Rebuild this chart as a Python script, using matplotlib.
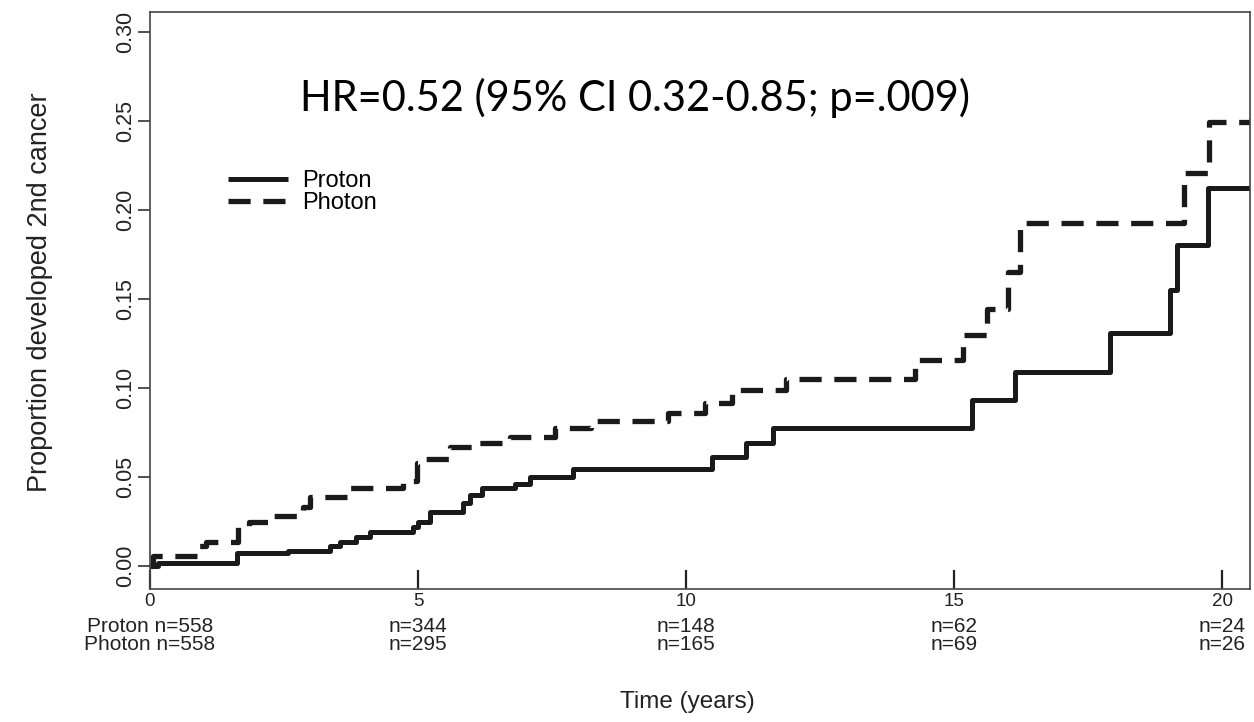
import numpy as np
import matplotlib
matplotlib.use("Agg")
import matplotlib.pyplot as plt

plt.rcParams['font.family'] = ['Liberation Sans', 'DejaVu Sans']

# cumulative incidence steps (years, proportion)
proton_t = [0, 0.15, 1.62, 2.58, 3.36, 3.54, 3.85, 4.10, 4.90, 5.00, 5.22, 5.84, 5.97,
            6.19, 6.81, 7.09, 7.89, 10.49, 11.11, 11.63, 15.33, 16.14, 17.91, 19.03,
            19.15, 19.74]
proton_p = [0, 0.0015, 0.0073, 0.0084, 0.0114, 0.0133, 0.0165, 0.0193, 0.0220, 0.0250,
            0.0305, 0.0354, 0.0400, 0.0437, 0.0460, 0.0500, 0.0543, 0.0614, 0.0689,
            0.0774, 0.0933, 0.1090, 0.1307, 0.1550, 0.1803, 0.2122]

photon_t = [0, 0.06, 0.87, 1.05, 1.64, 1.85, 2.24, 2.85, 2.99, 3.73, 4.72, 4.98, 5.10,
            5.60, 6.12, 6.72, 7.56, 8.23, 8.34, 9.66, 10.35, 10.85, 11.87, 14.27, 15.17,
            15.61, 16.01, 16.23, 19.28, 19.76]
photon_p = [0, 0.0058, 0.0110, 0.0137, 0.0220, 0.0250, 0.0280, 0.0333, 0.0386, 0.0440,
            0.0480, 0.0579, 0.0600, 0.0670, 0.0690, 0.0727, 0.0774, 0.0780, 0.0815,
            0.0858, 0.0917, 0.0989, 0.1050, 0.1160, 0.1298, 0.1442, 0.1650, 0.1925,
            0.2206, 0.2493]

t_end = 20.52

risk_times = [0, 5, 10, 15, 20]
proton_n = [558, 344, 148, 62, 24]
photon_n = [558, 295, 165, 69, 26]

hr_text = "HR=0.52 (95% CI 0.32-0.85; p=.009)"

fig = plt.figure(figsize=(12.54, 7.22), dpi=100)
ax = fig.add_axes([0.1196, 0.1842, 0.8772, 0.7992])

ax.step(proton_t + [t_end], proton_p + [proton_p[-1]], where="post",
        color="#1a1a1a", lw=3.6, solid_capstyle="butt", label="Proton")
ax.step(photon_t + [t_end], photon_p + [photon_p[-1]], where="post",
        color="#1a1a1a", lw=3.8, linestyle=(0, (4.2, 2.4)), label="Photon")

ax.set_xlim(0, t_end)
ax.set_ylim(-0.0129, 0.3112)

for s in ax.spines.values():
    s.set_color("#444444")
    s.set_linewidth(1.2)

ax.set_yticks(np.arange(0, 0.31, 0.05))
ax.set_yticklabels(["%.2f" % v for v in np.arange(0, 0.31, 0.05)],
                   rotation=90, va="center", fontsize=15.5, color="#222222")
ax.tick_params(axis="y", direction="out", length=9, width=1.2, color="#333333", pad=1)

ax.set_xticks(risk_times)
ax.set_xticklabels([str(t) for t in risk_times], fontsize=13.5, color="#222222")
ax.tick_params(axis="x", direction="in", length=14, width=1.6, color="#222222", pad=3)

# numbers at risk under the axis, one two-line block per time point
xt = ax.get_xaxis_transform()
for i, t in enumerate(risk_times):
    if i == 0:
        lab = "Proton n=%d\nPhoton n=%d" % (proton_n[i], photon_n[i])
    else:
        lab = "n=%d\nn=%d" % (proton_n[i], photon_n[i])
    ax.text(t, -0.080, lab, transform=xt, ha="center", va="center",
            multialignment="center", linespacing=0.92,
            fontsize=15, color="#222222", clip_on=False)

fig.text(687 / 1254, 1 - 702 / 722, "Time (years)", ha="center", va="center",
         fontsize=17.5, color="#222222")
fig.text(40 / 1254, 1 - 292 / 722, "Proportion developed 2nd cancer", rotation=90,
         ha="center", va="center", fontsize=19.5, color="#222222")

ax.legend(loc="upper left", bbox_to_anchor=(228 / 1254, 1 - 170 / 722),
          bbox_transform=fig.transFigure, frameon=False,
          fontsize=17, handlelength=2.55, handletextpad=0.6, labelspacing=0.0,
          borderpad=0, borderaxespad=0)

fig.text(300 / 1254, 1 - 98 / 722, hr_text, ha="left", va="center",
         fontsize=30, family="Lato", color="black")

fig.savefig("out.png", dpi=100)
